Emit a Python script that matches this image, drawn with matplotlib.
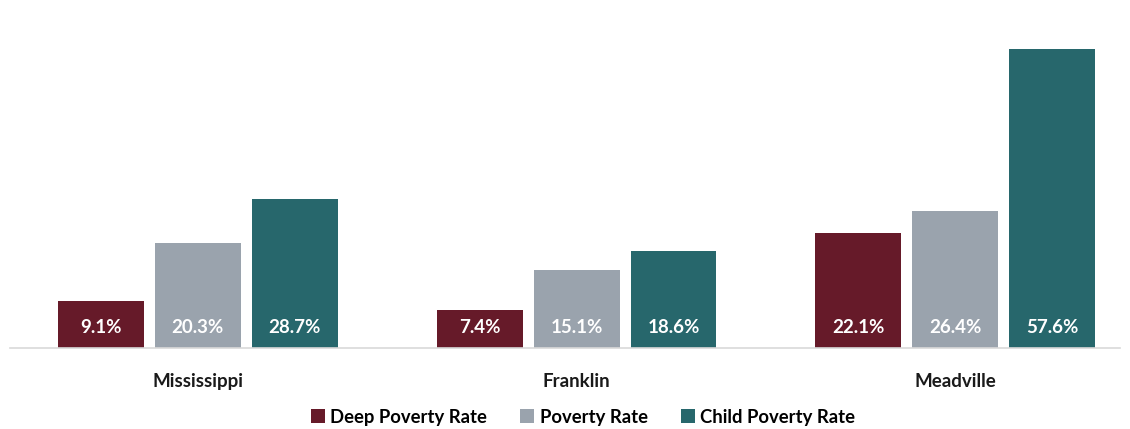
import matplotlib.pyplot as plt
from matplotlib.patches import Patch

places = ["Mississippi", "Franklin", "Meadville"]
deep_poverty = [9.1, 7.4, 22.1]
poverty = [20.3, 15.1, 26.4]
child_poverty = [28.7, 18.6, 57.6]

series = [
    ("Deep Poverty Rate", deep_poverty, "#661A29"),
    ("Poverty Rate", poverty, "#9AA3AD"),
    ("Child Poverty Rate", child_poverty, "#27676C"),
]

plt.rcParams["font.family"] = ["Lato", "DejaVu Sans"]

fig = plt.figure(figsize=(11.3, 4.29), dpi=100)
# axes from x=10..1120 px, y baseline at 348 px, top at 10 px
ax = fig.add_axes([10 / 1130, (429 - 348) / 429, 1110 / 1130, 338 / 429])

width = 0.227
step = 0.256
for i, (name, vals, color) in enumerate(series):
    xs = [g + (i - 1) * step for g in range(len(places))]
    ax.bar(xs, vals, width=width, color=color, label=name)
    for x, v in zip(xs, vals):
        ax.text(x, 4.0, f"{v}%", ha="center", va="center",
                color="white", fontsize=13.5, fontweight="bold")

ax.set_xlim(-0.496, 2.435)
ax.set_ylim(0, 338 / 5.19)

for s in ["top", "left", "right"]:
    ax.spines[s].set_visible(False)
ax.spines["bottom"].set_color("#D9D9D9")
ax.spines["bottom"].set_linewidth(1.2)
ax.set_yticks([])
ax.set_xticks(range(len(places)))
ax.set_xticklabels(places, fontsize=13.5, fontweight="bold", color="#1a1a1a")
ax.tick_params(axis="x", length=0, pad=18)

handles = [Patch(facecolor=c, label=n) for n, _, c in series]
fig.legend(handles=handles, loc="center", bbox_to_anchor=(583 / 1130, 1 - 417 / 429),
           ncol=3, frameon=False, handlelength=0.75, handleheight=0.75,
           handletextpad=0.3, columnspacing=1.8,
           prop={"weight": "bold", "size": 13.3})

fig.savefig("out.png", dpi=100)
